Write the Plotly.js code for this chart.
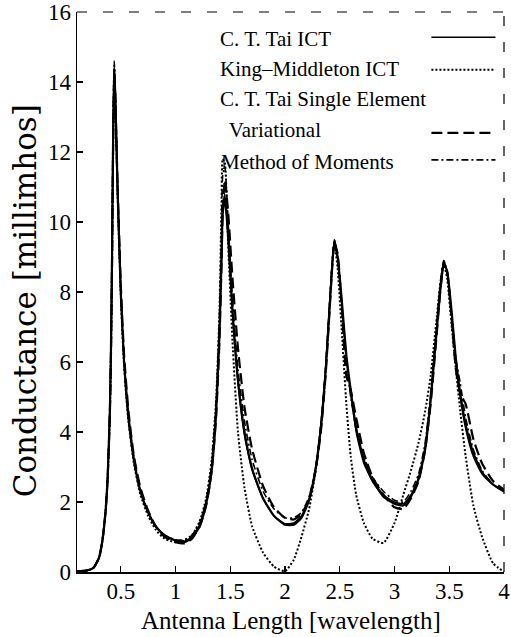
<!DOCTYPE html>
<html>
<head>
<meta charset="utf-8">
<script src="https://cdn.plot.ly/plotly-3.0.1.min.js"></script>
<style>html,body{margin:0;padding:0;background:#fff;}#chart{width:511px;height:637px;}</style>
</head>
<body>
<div id="chart"></div>
<script>
// Antenna length [wavelength]
const lengths = [0.10,0.20,0.25,0.30,0.33,0.36,0.38,0.40,0.41,0.42,
  0.43,0.44,0.45,0.47,0.50,0.53,0.57,0.62,0.68,0.75,
  0.82,0.90,1.00,1.08,1.15,1.22,1.28,1.33,1.37,1.40,
  1.42,1.43,1.45,1.48,1.52,1.57,1.63,1.70,1.80,1.90,
  2.00,2.08,2.15,2.22,2.28,2.33,2.37,2.40,2.43,2.45,
  2.48,2.52,2.56,2.60,2.65,2.72,2.80,2.90,3.00,3.08,
  3.15,3.22,3.28,3.33,3.38,3.42,3.45,3.48,3.52,3.56,
  3.60,3.65,3.72,3.80,3.90,4.00];

// Conductance [millimhos]
const taiICT = [0.02,0.05,0.12,0.40,0.85,1.7,2.7,4.6,6.3,9.0,
  12.5,14.5,13.6,11.0,8.0,6.0,4.4,3.2,2.3,1.7,
  1.3,1.05,0.9,0.88,1.0,1.35,2.0,3.0,4.6,6.8,
  9.0,10.3,10.8,9.6,7.4,5.4,3.9,2.9,2.1,1.6,
  1.38,1.4,1.6,2.1,3.0,4.3,5.8,7.3,8.8,9.5,
  9.0,7.6,6.1,5.1,4.0,3.1,2.6,2.2,2.0,1.95,
  2.2,2.7,3.6,5.0,6.8,8.2,8.9,8.6,7.4,6.0,
  5.0,4.1,3.3,2.8,2.5,2.3];

const kingMiddleton = [0.02,0.05,0.12,0.40,0.85,1.7,2.7,4.5,6.2,8.9,
  12.4,14.4,13.5,10.9,7.9,5.9,4.3,3.1,2.2,1.6,
  1.2,0.95,0.85,0.9,1.05,1.45,2.1,3.2,4.9,7.3,
  10.5,11.8,11.7,9.4,6.6,4.0,2.4,1.3,0.55,0.15,
  0.02,0.35,1.0,1.8,2.9,4.2,5.7,7.2,8.7,9.4,
  8.7,6.8,4.8,3.3,2.2,1.4,0.95,0.83,1.4,2.2,
  2.9,3.7,4.6,5.6,7.1,8.3,8.8,8.4,7.1,5.8,
  4.6,3.3,1.9,1.0,0.25,0.0];

const taiSingle = [0.02,0.05,0.12,0.40,0.85,1.7,2.7,4.6,6.3,9.0,
  12.4,14.4,13.6,11.0,8.0,6.0,4.4,3.2,2.3,1.7,
  1.3,1.05,0.9,0.85,0.98,1.3,1.95,2.9,4.5,6.7,
  8.9,10.2,10.7,9.6,7.5,5.5,4.0,2.95,2.1,1.6,
  1.35,1.35,1.55,2.05,2.95,4.2,5.7,7.2,8.7,9.4,
  9.0,7.7,6.2,5.2,4.1,3.2,2.6,2.15,1.95,1.9,
  2.15,2.65,3.5,4.9,6.7,8.1,8.8,8.6,7.5,6.1,
  5.1,4.2,3.4,2.85,2.5,2.3];

const variational = [0.02,0.05,0.12,0.40,0.85,1.7,2.7,4.5,6.2,8.8,
  12.2,14.2,13.5,11.1,8.2,6.2,4.6,3.3,2.4,1.75,
  1.3,1.0,0.85,0.82,0.95,1.3,1.9,2.9,4.4,6.5,
  8.8,10.2,11.2,10.3,8.4,6.4,4.7,3.5,2.45,1.85,
  1.55,1.5,1.65,2.1,2.9,4.1,5.6,7.1,8.7,9.4,
  9.1,7.5,5.6,5.2,4.4,3.4,2.7,2.2,1.85,1.8,
  2.1,2.6,3.5,4.8,6.6,8.1,8.8,8.6,7.3,5.8,
  5.1,4.8,3.8,3.1,2.6,2.35];

const momentMethod = [0.02,0.05,0.12,0.40,0.85,1.7,2.7,4.6,6.3,9.1,
  12.6,14.6,13.7,11.1,8.1,6.1,4.5,3.3,2.35,1.72,
  1.3,1.05,0.92,0.92,1.05,1.4,2.05,3.1,4.8,7.2,
  9.8,11.3,11.6,10.0,7.8,5.8,4.3,3.2,2.3,1.8,
  1.55,1.55,1.7,2.15,3.0,4.3,5.8,7.3,8.8,9.5,
  9.0,7.6,6.0,5.0,4.1,3.3,2.7,2.3,2.05,2.0,
  2.3,2.8,3.7,5.1,6.9,8.3,8.9,8.6,7.4,6.1,
  5.4,4.4,3.5,2.9,2.5,2.3];

const seriesNames = ["C. T. Tai ICT", "King\u2013Middleton ICT", "C. T. Tai Single Element", " Variational", "Method of Moments"];
const xTicks = [0.5, 1, 1.5, 2, 2.5, 3, 3.5, 4];
const yTicks = [0, 2, 4, 6, 8, 10, 12, 14, 16];

const seriesData = [taiICT, kingMiddleton, taiSingle, variational, momentMethod];
const styles = [
  {dash: 'solid', width: 1.5},
  {dash: '2px,2px', width: 2},
  {dash: 'solid', width: 2.2},
  {dash: '11px,5px', width: 2.2},
  {dash: '7px,3px,2px,3px', width: 1.6}
];

const traces = seriesData.map((ys, i) => ({
  x: lengths, y: ys, type: 'scatter', mode: 'lines', name: seriesNames[i],
  line: {color: '#000', dash: styles[i].dash, width: styles[i].width, shape: 'spline', smoothing: 0.5},
  showlegend: false, hoverinfo: 'skip'
}));

// custom legend: text left, line sample right
const rowY = [0.952, 0.898, 0.844, 0.789, 0.733];
const rowX = [0.33, 0.33, 0.33, 0.34, 0.333];
const annotations = seriesNames.map((t, i) => ({
  text: t, xref: 'paper', yref: 'paper', x: rowX[i], y: rowY[i],
  xanchor: 'left', yanchor: 'middle', showarrow: false,
  font: {family: 'Liberation Serif', size: 21, color: '#000'}
}));
annotations.push({
  text: 'Antenna Length [wavelength]', xref: 'paper', yref: 'paper', x: 0.5, y: -0.086,
  xanchor: 'center', yanchor: 'middle', showarrow: false,
  font: {family: 'Liberation Serif', size: 25, color: '#000'}
});
annotations.push({
  text: 'Conductance [millimhos]', xref: 'paper', yref: 'paper', x: -0.122, y: 0.485,
  xanchor: 'center', yanchor: 'middle', showarrow: false, textangle: -90,
  font: {family: 'DejaVu Serif', size: 31, color: '#000'}
});

const sampleRows = [0, 1, 3, 4];
const sampleY = {0: 0.955, 1: 0.897, 3: 0.784, 4: 0.736};
const shapes = sampleRows.map(i => ({
  type: 'line', xref: 'paper', yref: 'paper', x0: 0.83, x1: 0.98, y0: sampleY[i], y1: sampleY[i],
  line: {color: '#000', width: styles[i].width, dash: styles[i].dash}
}));
// broken-looking top and right frame lines
shapes.push({type: 'line', xref: 'paper', yref: 'paper', x0: 0, x1: 1, y0: 1, y1: 1,
  line: {color: '#000', width: 1.2, dash: '10px,16px'}});
shapes.push({type: 'line', xref: 'paper', yref: 'paper', x0: 1, x1: 1, y0: 0, y1: 1,
  line: {color: '#000', width: 1.2, dash: '10px,16px'}});

const axisCommon = {
  showgrid: false, zeroline: false, showline: true, linecolor: '#000', linewidth: 1.5,
  ticks: 'inside', ticklen: 6, tickwidth: 1.2, tickcolor: '#000',
  ticklabeloverflow: 'allow',
  tickfont: {family: 'Liberation Serif', size: 23, color: '#000'}
};

const layout = {
  width: 511, height: 637,
  margin: {l: 77, r: 7, t: 12, b: 65},
  paper_bgcolor: '#fff', plot_bgcolor: '#fff',
  xaxis: Object.assign({}, axisCommon, {range: [0.1, 4], tickvals: xTicks, ticktext: xTicks.map(String), ticklabelstandoff: -2}),
  yaxis: Object.assign({}, axisCommon, {range: [0, 16.001], tickvals: yTicks, ticktext: yTicks.map(String)}),
  annotations: annotations,
  shapes: shapes,
  showlegend: false
};

Plotly.newPlot('chart', traces, layout, {displayModeBar: false, staticPlot: true});
</script>
</body>
</html>
